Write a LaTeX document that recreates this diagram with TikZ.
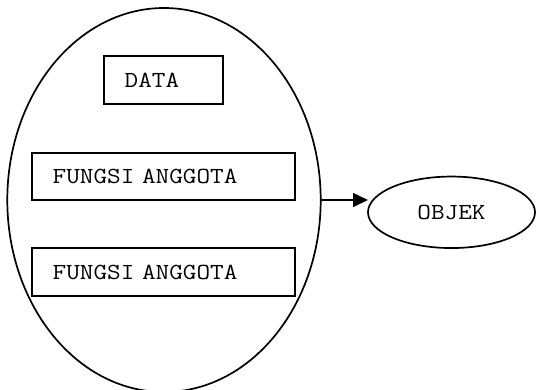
\documentclass[tikz,border=0pt]{standalone}
\usepackage{fontspec}
\setmonofont[FakeStretch=1.15]{Latin Modern Mono}
\newcommand\labelfont{\ttfamily\fontsize{23}{28}\selectfont\fontdimen2\font=13.9pt\relax}
\usetikzlibrary{shapes.geometric,arrows.meta}
\begin{document}
\begin{tikzpicture}[x=1pt,y=-1pt,
  every node/.style={font=\labelfont, outer sep=0pt},
  outline/.style={draw, line width=1.7pt},
  membox/.style={outline, rectangle, inner xsep=21pt, inner ysep=0pt, align=left, anchor=north west},
  bigoval/.style={outline, ellipse, inner sep=0pt},
  conn/.style={line width=1.5pt, -{Triangle[length=15pt,width=14pt]}}]
\useasboundingbox (0,0) rectangle (537,390);
\node[bigoval, minimum width=313.4pt, minimum height=384pt] (big) at (164,200) {};
\node[membox, text width=77pt, minimum height=48.3pt] (data) at (103.7,56) {\raisebox{-3pt}{DATA}};
\node[membox, text width=221pt, minimum height=47.3pt] (f1) at (31.7,152.7) {FUNGSI ANGGOTA};
\node[membox, text width=221pt, minimum height=48pt] (f2) at (31.7,248) {FUNGSI ANGGOTA};
\node[bigoval, minimum width=167pt, minimum height=71.5pt] (objek) at (451.5,212.3) {OBJEK\hspace{10pt}};
\coordinate (tipend) at (big.east -| objek.west);
\draw[conn] (big.east) -- (tipend);
\end{tikzpicture}
\end{document}
